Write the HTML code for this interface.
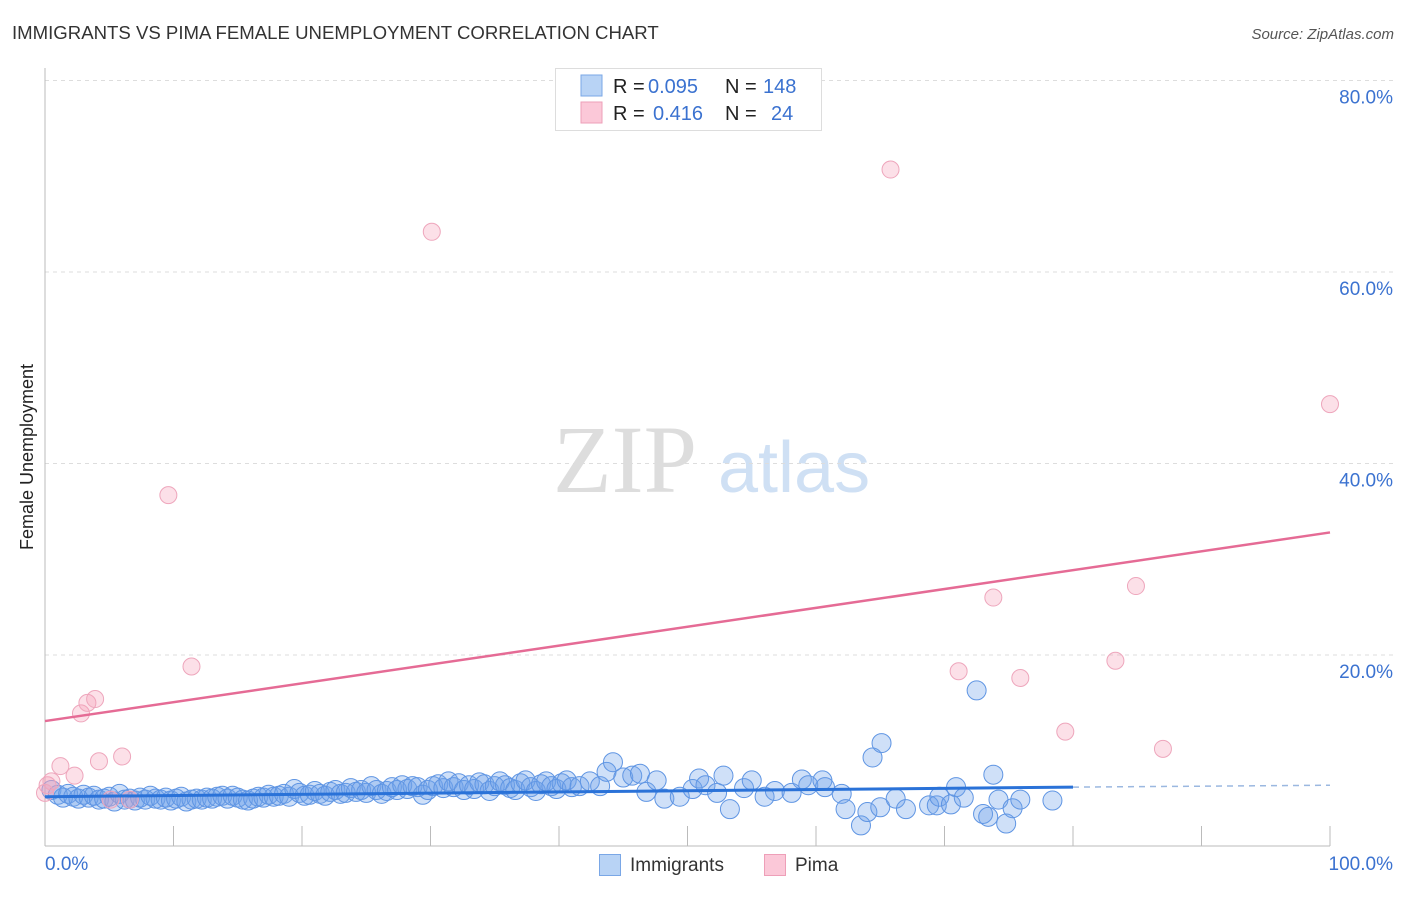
<!DOCTYPE html>
<html><head><meta charset="utf-8"><style>
body{margin:0;background:#fff;font-family:"Liberation Sans",sans-serif}
</style></head><body>
<svg id="c" width="1406" height="892" xmlns="http://www.w3.org/2000/svg">
<text x="12" y="39" font-size="18.6" fill="#333">IMMIGRANTS VS PIMA FEMALE UNEMPLOYMENT CORRELATION CHART</text>
<text x="1394" y="39" font-size="15" fill="#555" font-style="italic" text-anchor="end">Source: ZipAtlas.com</text>
<text x="0" y="0" transform="translate(33,457) rotate(-90)" font-size="18" fill="#222" text-anchor="middle">Female Unemployment</text>
<g><text x="553" y="492" font-family="Liberation Serif" font-size="96" fill="#ddd">ZIP</text><text x="718" y="492" font-size="72" fill="#cfe0f4">atlas</text></g>
<g id="grid"></g><g id="blue"></g><g id="pink"></g><g id="trend"></g>
<g>
<rect x="555.5" y="68.5" width="266" height="62" fill="#fff" stroke="#ddd"/>
<rect x="581" y="75" width="21" height="21" fill="#b8d3f5" stroke="#7aa7e6"/>
<rect x="581" y="102" width="21" height="21" fill="#fbc8d8" stroke="#ee9fb8"/>
<g font-size="20" fill="#222">
<text x="613" y="93">R =</text><text x="648" y="93" fill="#3b72d0">0.095</text><text x="725" y="93">N =</text><text x="763" y="93" fill="#3b72d0">148</text>
<text x="613" y="120">R =</text><text x="653" y="120" fill="#3b72d0">0.416</text><text x="725" y="120">N =</text><text x="771" y="120" fill="#3b72d0">24</text>
</g>
</g>
<g>
<rect x="599.5" y="854.5" width="21" height="21" fill="#b8d3f5" stroke="#7aa7e6"/>
<text x="630" y="871" font-size="19" fill="#333">Immigrants</text>
<rect x="764.5" y="854.5" width="21" height="21" fill="#fbc8d8" stroke="#ee9fb8"/>
<text x="795" y="871" font-size="19" fill="#333">Pima</text>
</g>
</svg>
<script>
const yTicks=[20,40,60,80];
const xTickLabels=["0.0%","100.0%"];
const blueX=[0.5,1,1.4,1.8,2.2,2.6,3,3.4,3.8,4.2,4.6,5,5.4,5.8,6.2,6.6,7,7.4,7.8,8.2,8.6,9,9.4,9.8,10.2,10.6,11,11.4,11.8,12.2,12.6,13,13.4,13.8,14.2,14.6,15,15.4,15.8,16.2,16.6,17,17.4,17.8,18.2,18.6,19,19.4,19.8,20.2,20.6,21,21.4,21.8,22.2,22.6,23,23.4,23.8,24.2,24.6,25,25.4,25.8,26.2,26.6,27,27.4,27.8,28.2,28.6,29,29.4,29.8,30.2,30.6,31,31.4,31.8,32.2,32.6,33,33.4,33.8,34.2,34.6,35,35.4,35.8,36.2,36.6,37,37.4,37.8,38.2,38.6,39,39.4,39.8,40.2,40.6,41,41.6,42.4,43.2,43.7,44.2,45,45.7,46.3,46.8,47.6,48.2,49.4,50.4,50.9,51.4,52.3,52.8,53.3,54.4,55,56,56.8,58.1,58.9,59.4,60.5,60.7,62,62.3,63.5,64,64.4,65,65.1,66.2,67,68.8,69.4,69.6,70.5,70.9,71.5,72.5,73,73.4,73.8,74.2,74.8,75.3,75.9,78.4];
const blueY=[5.9,5.4,5.1,5.5,5.2,5.0,5.4,5.1,5.3,4.9,5.0,5.2,4.7,5.5,4.9,5.0,4.8,5.1,4.9,5.3,5.0,4.9,5.1,4.8,5.0,5.2,4.7,4.9,5.0,4.9,5.1,5.0,5.2,5.3,5.0,5.3,5.1,4.9,4.8,5.0,5.2,5.1,5.4,5.2,5.3,5.5,5.2,6.0,5.6,5.3,5.4,5.8,5.5,5.3,5.7,5.9,5.5,5.6,6.1,5.7,5.9,5.6,6.3,5.9,5.5,5.8,6.2,5.9,6.4,6.0,6.3,6.2,5.4,5.9,6.3,6.5,6.1,6.8,6.2,6.6,5.9,6.4,6.0,6.7,6.5,5.8,6.3,6.8,6.4,6.1,5.9,6.6,6.9,6.2,5.8,6.5,6.8,6.3,6.0,6.6,6.9,6.2,6.3,6.8,6.3,7.8,8.8,7.2,7.4,7.6,5.7,6.9,5.0,5.2,6.0,7.1,6.4,5.6,7.4,3.9,6.1,6.9,5.2,5.8,5.6,7.0,6.4,6.9,6.2,5.5,3.9,2.2,3.6,9.3,4.1,10.8,5.0,3.9,4.3,4.3,5.2,4.4,6.2,5.1,16.3,3.4,3.1,7.5,4.9,2.4,4.0,4.9,4.8];
const pinkX=[0.2,0.5,0,1.2,2.3,2.8,3.3,3.9,4.2,6,9.6,11.4,30.1,65.8,71.1,73.8,75.9,79.4,83.3,84.9,87,100,5.1,6.6];
const pinkY=[6.4,6.8,5.6,8.4,7.4,13.9,15.0,15.4,8.9,9.4,36.7,18.8,64.2,70.7,18.3,26.0,17.6,12.0,19.4,27.2,10.2,46.2,4.9,4.9];
const blueTrend=[5.2,6.2,6.4];
const pinkTrend=[13.1,32.8];
const NS="http://www.w3.org/2000/svg";
const sx=v=>45+v*12.85, sy=v=>846.5-v*9.575;
function mk(t,a,p){const e=document.createElementNS(NS,t);for(const k in a)e.setAttribute(k,a[k]);document.getElementById(p).appendChild(e);return e;}
yTicks.forEach(t=>{
 const l=mk('line',{x1:45,x2:1395,y1:sy(t),y2:sy(t),stroke:'#ddd','stroke-dasharray':'4,4'},'grid');
 
 
 const tx=mk('text',{x:1393,y:sy(t)+23,'font-size':19,fill:'#3b72d0','text-anchor':'end'},'grid');tx.textContent=t.toFixed(1)+'%';
 
 
});
mk('line',{x1:45,x2:45,y1:68,y2:846,stroke:'#bbb'},'grid');
mk('line',{x1:45,x2:1330,y1:846,y2:846,stroke:'#bbb'},'grid');
for(let i=1;i<=10;i++){const l=mk('line',{x1:sx(i*10),x2:sx(i*10),y1:826,y2:846,stroke:'#bbb'},'grid');
 
 }
[0,1].forEach(i=>{const tx=mk('text',{x:i?1393:45,y:870,'font-size':19,fill:'#3b72d0','text-anchor':i?'end':'start'},'grid');tx.textContent=xTickLabels[i];
 
 });
blueX.forEach((x,i)=>{const c=mk('circle',{cx:sx(x),cy:sy(blueY[i]),r:9.5,fill:'rgba(110,160,235,0.33)',stroke:'#5f95e3','stroke-width':1},'blue');
 
 });
pinkX.forEach((x,i)=>{const c=mk('circle',{cx:sx(x),cy:sy(pinkY[i]),r:8.5,fill:'rgba(245,160,185,0.33)',stroke:'#eea6bc','stroke-width':1},'pink');
 
 });
let t=mk('line',{x1:sx(0),y1:sy(blueTrend[0]),x2:sx(80),y2:sy(blueTrend[1]),stroke:'#2a72d8','stroke-width':3},'trend');


t=mk('line',{x1:sx(80),y1:sy(blueTrend[1]),x2:sx(100),y2:sy(blueTrend[2]),stroke:'#9bb8e0','stroke-width':1.5,'stroke-dasharray':'6,5'},'trend');


t=mk('line',{x1:sx(0),y1:sy(pinkTrend[0]),x2:sx(100),y2:sy(pinkTrend[1]),stroke:'#e56b95','stroke-width':2.5},'trend');


</script>
</body></html>
